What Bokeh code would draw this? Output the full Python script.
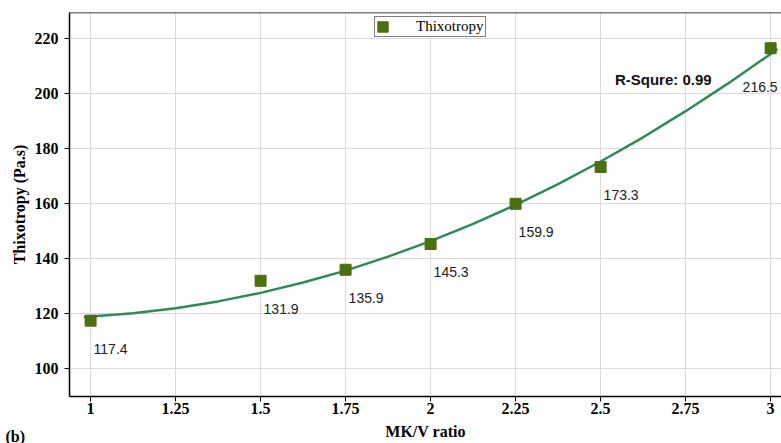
from bokeh.plotting import figure
from bokeh.models import (ColumnDataSource, LabelSet, Label, Span, FixedTicker,
                          Legend, LegendItem, Range1d, Title)
from bokeh.core.properties import value
from bokeh.embed import file_html
from bokeh.resources import INLINE

# ---- data ----
mk_ratio = [1.0, 1.5, 1.75, 2.0, 2.25, 2.5, 3.0]
thixotropy = [117.4, 131.9, 135.9, 145.3, 159.9, 173.3, 216.5]
value_labels = ["117.4", "131.9", "135.9", "145.3", "159.9", "173.3", "216.5"]

# fitted curve
fit_x = [0.98, 1.0, 1.125, 1.25, 1.375, 1.5, 1.625, 1.75, 1.875, 2.0,
         2.125, 2.25, 2.375, 2.5, 2.625, 2.75, 2.875, 3.0, 3.02]
fit_y = [118.8, 118.9, 120.1, 121.9, 124.4, 127.5, 131.3, 135.6, 140.7, 146.3,
         152.6, 159.5, 167.1, 175.3, 184.1, 193.6, 203.7, 214.4, 216.2]

x_ticks = [1, 1.25, 1.5, 1.75, 2, 2.25, 2.5, 2.75, 3]
x_tick_labels = ["1", "1.25", "1.5", "1.75", "2", "2.25", "2.5", "2.75", "3"]
y_ticks = [100, 120, 140, 160, 180, 200, 220]

r_square_text = "R-Squre: 0.99"
series_name = "Thixotropy"
panel_tag = "(b)"

# label placement (screen px offsets)
label_dx = [3, 3, 3, 3, 3, 3, -28]
label_dy = [-28, -28, -28, -28, -28, -28, -39]

SERIF = "Liberation Serif"
SANS = "Liberation Sans"

p = figure(width=781, height=443, output_backend="svg", toolbar_location=None,
           x_range=Range1d(0.938, 3.032), y_range=Range1d(89.8, 229.5),
           min_border_left=69, min_border_right=0, min_border_top=12,
           min_border_bottom=47)
p.outline_line_color = None
p.background_fill_color = "white"
p.border_fill_color = "white"

# grid
p.xgrid.grid_line_color = "#dadada"
p.ygrid.grid_line_color = "#dadada"
p.xgrid.grid_line_width = 1
p.ygrid.grid_line_width = 1

# axes
p.xaxis.ticker = FixedTicker(ticks=x_ticks)
p.xaxis.major_label_overrides = {t: l for t, l in zip(x_ticks, x_tick_labels)}
p.yaxis.ticker = FixedTicker(ticks=y_ticks)
for ax in (p.xaxis[0], p.yaxis[0]):
    ax.axis_line_color = "black"
    ax.axis_line_width = 1.5
    ax.major_tick_line_color = "black"
    ax.major_tick_line_width = 1
    ax.major_tick_out = 5
    ax.major_tick_in = 0
    ax.minor_tick_line_color = None
    ax.major_label_text_font = SERIF
    ax.major_label_text_font_style = "bold"
    ax.major_label_text_font_size = "16px"
    ax.major_label_text_color = "black"
    ax.axis_label_text_font = SERIF
    ax.axis_label_text_font_style = "bold"
    ax.axis_label_text_font_size = "16px"
    ax.axis_label_text_color = "black"

p.xaxis.axis_label = "MK/V ratio"
p.xaxis.major_label_standoff = 1
p.xaxis.axis_label_standoff = 6
p.yaxis.axis_label = "Thixotropy (Pa.s)"
p.yaxis.major_label_standoff = 6
p.yaxis.axis_label_standoff = 4

# top border line
p.add_layout(Span(location=229.5, dimension="width", line_color="black", line_width=1.5))

# fit curve
p.line(fit_x, fit_y, line_color="#2e8b57", line_width=2.5)

# data markers
src = ColumnDataSource(dict(x=mk_ratio, y=thixotropy, lab=value_labels,
                            dx=label_dx, dy=label_dy))
r = p.rect(x="x", y="y", width=11, height=11, width_units="screen",
           height_units="screen", source=src, fill_color="#4a7010",
           line_color="#4a7010")

labels = LabelSet(x="x", y="y", text="lab", x_offset="dx", y_offset="dy",
                  source=src, text_font=value(SANS), text_font_size="14px",
                  text_color="#222222", text_align="left", text_baseline="middle")
p.add_layout(labels)

p.add_layout(Label(x=2.542, y=205.3, text=r_square_text, text_font=SANS,
                   text_font_size="15px", text_font_style="bold",
                   text_color="#111111", text_align="left", text_baseline="middle"))

# panel tag "(b)" in the bottom side panel (titles are not clipped to the frame)
tag = Title(text=panel_tag, align="left", offset=-64, standoff=-30,
            vertical_align="top", text_font=SERIF, text_font_size="16px",
            text_font_style="bold", text_color="black")
p.add_layout(tag, "below")

legend = Legend(items=[LegendItem(label=series_name, renderers=[r])],
                location=(305, 359))
legend.label_text_font = SERIF
legend.label_text_font_size = "15px"
legend.label_text_color = "black"
legend.border_line_color = "black"
legend.border_line_width = 1
legend.padding = 1
legend.margin = 0
legend.spacing = 0
legend.glyph_width = 13
legend.glyph_height = 13
legend.label_height = 15
legend.label_standoff = 27
legend.background_fill_alpha = 1
p.add_layout(legend, "center")

open("out.html", "w").write(file_html(p, INLINE))
